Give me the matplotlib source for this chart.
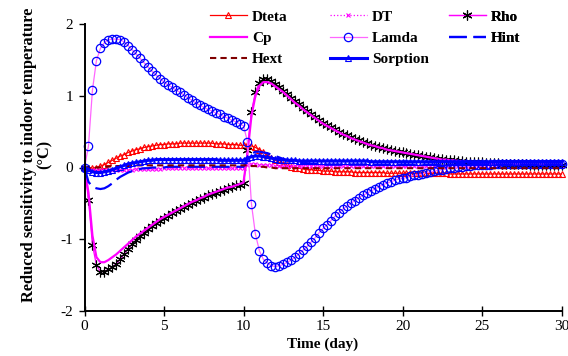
import numpy as np
import matplotlib
matplotlib.use("Agg")
import matplotlib.pyplot as plt

plt.rcParams['font.family'] = ['Liberation Serif', 'DejaVu Serif']

# time axis, one value every 6 hours over 30 days
time_days = np.arange(0, 30.25, 0.25)

dteta = [
    0.00, 0.00, -0.01, 0.00, 0.02, 0.04, 0.07, 0.10,
    0.13, 0.16, 0.18, 0.21, 0.23, 0.25, 0.26, 0.28,
    0.29, 0.30, 0.31, 0.32, 0.32, 0.33, 0.33, 0.33,
    0.34, 0.34, 0.34, 0.34, 0.34, 0.34, 0.34, 0.34,
    0.34, 0.33, 0.33, 0.33, 0.32, 0.32, 0.32, 0.31,
    0.31, 0.31, 0.30, 0.28, 0.25, 0.21, 0.17, 0.13,
    0.10, 0.07, 0.05, 0.03, 0.01, 0.00, -0.01, -0.02,
    -0.03, -0.03, -0.04, -0.04, -0.05, -0.05, -0.05, -0.06,
    -0.06, -0.06, -0.06, -0.06, -0.07, -0.07, -0.07, -0.07,
    -0.07, -0.07, -0.07, -0.07, -0.08, -0.08, -0.08, -0.08,
    -0.08, -0.08, -0.08, -0.08, -0.08, -0.08, -0.08, -0.08,
    -0.08, -0.08, -0.08, -0.08, -0.09, -0.09, -0.09, -0.09,
    -0.09, -0.09, -0.09, -0.09, -0.09, -0.09, -0.09, -0.09,
    -0.09, -0.09, -0.09, -0.09, -0.09, -0.09, -0.09, -0.09,
    -0.09, -0.09, -0.09, -0.09, -0.09, -0.09, -0.09, -0.09,
    -0.09,
]

dt = [
    0.00, -0.02, -0.03, -0.04, -0.04, -0.04, -0.04, -0.04,
    -0.03, -0.03, -0.03, -0.03, -0.03, -0.02, -0.02, -0.02,
    -0.02, -0.02, -0.02, -0.02, -0.01, -0.01, -0.01, -0.01,
    -0.01, -0.01, -0.01, -0.01, -0.01, -0.01, -0.01, -0.01,
    -0.01, -0.01, -0.01, -0.01, -0.01, -0.01, -0.01, -0.01,
    -0.01, 0.04, 0.05, 0.05, 0.04, 0.04, 0.03, 0.03,
    0.02, 0.02, 0.02, 0.02, 0.02, 0.02, 0.02, 0.02,
    0.02, 0.02, 0.02, 0.02, 0.02, 0.02, 0.02, 0.02,
    0.02, 0.02, 0.02, 0.02, 0.02, 0.02, 0.02, 0.02,
    0.02, 0.02, 0.02, 0.02, 0.02, 0.02, 0.02, 0.02,
    0.02, 0.02, 0.02, 0.02, 0.02, 0.02, 0.02, 0.02,
    0.02, 0.02, 0.02, 0.02, 0.02, 0.02, 0.02, 0.02,
    0.02, 0.02, 0.02, 0.02, 0.02, 0.02, 0.02, 0.02,
    0.02, 0.02, 0.02, 0.02, 0.02, 0.02, 0.02, 0.02,
    0.02, 0.02, 0.02, 0.02, 0.02, 0.02, 0.02, 0.02,
    0.02,
]

rho = [
    0.00, -0.45, -1.08, -1.36, -1.45, -1.45, -1.42, -1.39,
    -1.34, -1.28, -1.20, -1.13, -1.07, -1.01, -0.96, -0.91,
    -0.86, -0.82, -0.78, -0.74, -0.70, -0.67, -0.64, -0.61,
    -0.58, -0.55, -0.52, -0.49, -0.47, -0.44, -0.42, -0.39,
    -0.37, -0.35, -0.33, -0.31, -0.29, -0.27, -0.25, -0.24,
    -0.22, 0.25, 0.78, 1.05, 1.18, 1.23, 1.23, 1.20,
    1.16, 1.12, 1.07, 1.02, 0.97, 0.92, 0.88, 0.83,
    0.79, 0.74, 0.70, 0.66, 0.62, 0.59, 0.56, 0.53,
    0.50, 0.47, 0.45, 0.42, 0.40, 0.38, 0.36, 0.34,
    0.32, 0.30, 0.29, 0.27, 0.26, 0.24, 0.23, 0.22,
    0.21, 0.20, 0.19, 0.18, 0.17, 0.16, 0.15, 0.14,
    0.13, 0.12, 0.12, 0.11, 0.10, 0.10, 0.09, 0.09,
    0.08, 0.08, 0.07, 0.07, 0.07, 0.06, 0.06, 0.06,
    0.06, 0.05, 0.05, 0.05, 0.05, 0.05, 0.05, 0.05,
    0.04, 0.04, 0.04, 0.04, 0.04, 0.04, 0.04, 0.04,
    0.04,
]

cp = [
    0.00, -0.35, -0.95, -1.25, -1.32, -1.32, -1.29, -1.25,
    -1.21, -1.16, -1.11, -1.06, -1.01, -0.96, -0.92, -0.88,
    -0.84, -0.80, -0.76, -0.72, -0.69, -0.66, -0.63, -0.60,
    -0.57, -0.54, -0.51, -0.48, -0.46, -0.43, -0.41, -0.38,
    -0.36, -0.34, -0.32, -0.30, -0.28, -0.27, -0.25, -0.23,
    -0.21, 0.20, 0.72, 1.00, 1.14, 1.19, 1.19, 1.17,
    1.13, 1.09, 1.05, 1.00, 0.95, 0.90, 0.86, 0.81,
    0.77, 0.73, 0.69, 0.65, 0.61, 0.58, 0.55, 0.52,
    0.49, 0.46, 0.44, 0.41, 0.39, 0.37, 0.35, 0.33,
    0.31, 0.30, 0.28, 0.27, 0.25, 0.24, 0.23, 0.22,
    0.21, 0.20, 0.19, 0.18, 0.17, 0.16, 0.15, 0.14,
    0.13, 0.12, 0.11, 0.11, 0.10, 0.10, 0.09, 0.09,
    0.08, 0.08, 0.07, 0.07, 0.06, 0.06, 0.06, 0.06,
    0.05, 0.05, 0.05, 0.05, 0.05, 0.05, 0.05, 0.05,
    0.04, 0.04, 0.04, 0.04, 0.04, 0.04, 0.04, 0.04,
    0.04,
]

lamda = [
    0.00, 0.30, 1.08, 1.49, 1.66, 1.74, 1.78, 1.79,
    1.79, 1.78, 1.75, 1.70, 1.64, 1.58, 1.52, 1.46,
    1.40, 1.34, 1.29, 1.24, 1.19, 1.15, 1.12, 1.08,
    1.05, 1.01, 0.97, 0.94, 0.90, 0.87, 0.84, 0.81,
    0.79, 0.76, 0.74, 0.71, 0.69, 0.66, 0.64, 0.61,
    0.58, 0.36, -0.51, -0.93, -1.16, -1.28, -1.33, -1.37,
    -1.38, -1.37, -1.35, -1.32, -1.29, -1.25, -1.20, -1.15,
    -1.10, -1.04, -0.98, -0.91, -0.85, -0.80, -0.74, -0.68,
    -0.63, -0.58, -0.54, -0.50, -0.46, -0.42, -0.39, -0.36,
    -0.33, -0.30, -0.27, -0.24, -0.22, -0.20, -0.18, -0.16,
    -0.15, -0.14, -0.12, -0.11, -0.10, -0.09, -0.07, -0.06,
    -0.05, -0.04, -0.03, -0.02, -0.01, 0.00, 0.01, 0.01,
    0.02, 0.02, 0.03, 0.03, 0.04, 0.04, 0.04, 0.05,
    0.05, 0.05, 0.05, 0.05, 0.05, 0.05, 0.05, 0.05,
    0.05, 0.05, 0.05, 0.05, 0.05, 0.05, 0.05, 0.05,
    0.05,
]

hint = [
    0.00, -0.20, -0.27, -0.29, -0.30, -0.29, -0.26, -0.22,
    -0.17, -0.13, -0.10, -0.07, -0.05, -0.04, -0.02, -0.01,
    -0.01, 0.00, 0.00, 0.00, 0.00, 0.01, 0.01, 0.01,
    0.01, 0.01, 0.01, 0.01, 0.01, 0.01, 0.01, 0.01,
    0.01, 0.01, 0.01, 0.01, 0.01, 0.01, 0.01, 0.01,
    0.01, 0.12, 0.19, 0.22, 0.22, 0.21, 0.20, 0.18,
    0.16, 0.14, 0.12, 0.10, 0.09, 0.08, 0.07, 0.06,
    0.06, 0.05, 0.05, 0.05, 0.04, 0.04, 0.04, 0.04,
    0.04, 0.04, 0.04, 0.04, 0.04, 0.04, 0.04, 0.04,
    0.04, 0.04, 0.04, 0.04, 0.04, 0.04, 0.04, 0.04,
    0.04, 0.04, 0.04, 0.04, 0.04, 0.04, 0.04, 0.04,
    0.04, 0.04, 0.04, 0.04, 0.04, 0.04, 0.04, 0.04,
    0.04, 0.04, 0.04, 0.04, 0.04, 0.04, 0.04, 0.04,
    0.04, 0.04, 0.04, 0.04, 0.04, 0.04, 0.04, 0.04,
    0.04, 0.04, 0.04, 0.04, 0.04, 0.04, 0.04, 0.04,
    0.04,
]

hext = [
    0.00, -0.01, -0.01, 0.00, 0.00, 0.01, 0.01, 0.02,
    0.02, 0.02, 0.02, 0.02, 0.03, 0.03, 0.03, 0.03,
    0.03, 0.03, 0.03, 0.03, 0.03, 0.03, 0.03, 0.03,
    0.03, 0.03, 0.03, 0.03, 0.03, 0.03, 0.03, 0.03,
    0.03, 0.03, 0.03, 0.03, 0.03, 0.03, 0.03, 0.03,
    0.03, 0.03, 0.02, 0.02, 0.01, 0.01, 0.00, 0.00,
    -0.01, -0.01, -0.01, -0.01, -0.01, -0.01, -0.01, -0.01,
    -0.01, -0.01, -0.01, -0.01, -0.01, -0.01, -0.01, -0.01,
    -0.01, -0.01, -0.01, -0.01, -0.01, -0.01, -0.01, -0.01,
    -0.01, -0.01, -0.01, -0.01, -0.01, -0.01, -0.01, -0.01,
    -0.01, -0.01, -0.01, -0.01, -0.01, -0.01, -0.01, -0.01,
    -0.01, -0.01, -0.01, -0.01, -0.01, -0.01, -0.01, -0.01,
    -0.01, -0.01, -0.01, -0.01, -0.01, -0.01, -0.01, -0.01,
    -0.01, -0.01, -0.01, -0.01, -0.01, -0.01, -0.01, -0.01,
    -0.01, -0.01, -0.01, -0.01, -0.01, -0.01, -0.01, -0.01,
    -0.01,
]

sorption = [
    0.00, -0.03, -0.06, -0.07, -0.07, -0.06, -0.05, -0.03,
    -0.01, 0.01, 0.03, 0.05, 0.06, 0.07, 0.08, 0.09,
    0.10, 0.10, 0.11, 0.11, 0.11, 0.11, 0.11, 0.11,
    0.11, 0.11, 0.11, 0.11, 0.11, 0.11, 0.11, 0.11,
    0.11, 0.11, 0.10, 0.10, 0.10, 0.10, 0.10, 0.10,
    0.10, 0.13, 0.15, 0.16, 0.16, 0.15, 0.14, 0.13,
    0.12, 0.11, 0.11, 0.10, 0.10, 0.10, 0.09, 0.09,
    0.09, 0.09, 0.09, 0.09, 0.09, 0.09, 0.09, 0.09,
    0.09, 0.09, 0.09, 0.09, 0.09, 0.09, 0.09, 0.09,
    0.08, 0.08, 0.08, 0.08, 0.08, 0.08, 0.08, 0.08,
    0.08, 0.08, 0.08, 0.08, 0.08, 0.08, 0.08, 0.08,
    0.08, 0.08, 0.08, 0.08, 0.08, 0.08, 0.08, 0.08,
    0.08, 0.08, 0.08, 0.08, 0.08, 0.08, 0.08, 0.08,
    0.08, 0.08, 0.08, 0.08, 0.08, 0.08, 0.08, 0.08,
    0.08, 0.08, 0.08, 0.08, 0.08, 0.08, 0.08, 0.08,
    0.08,
]

W, H = 568, 356
fig = plt.figure(figsize=(W / 100, H / 100), dpi=100)
ax = fig.add_axes([84.5 / W, 1 - 311 / H, 477 / W, 287 / H])

asterisk = (6, 2, 0)
series = [
    ("Dteta", dteta, dict(color="#FF0000", lw=0.9, marker="^", ms=5, mfc="none", mec="#FF0000", mew=0.8)),
    ("DT", dt, dict(color="#FF00FF", lw=0.9, ls=":", marker="x", ms=3.5, mec="#FF00FF", mew=0.8)),
    ("Rho", rho, dict(color="#FF00FF", lw=0.9, marker=asterisk, ms=7, mec="black", mew=0.8)),
    ("Cp", cp, dict(color="#FF00FF", lw=1.6)),
    ("Lamda", lamda, dict(color="#FF66FF", lw=0.9, marker="o", ms=6, mfc="none", mec="#0000FF", mew=0.9)),
    ("Hint", hint, dict(color="#0000FF", lw=1.6, dashes=(8, 3))),
    ("Hext", hext, dict(color="#800000", lw=1.5, dashes=(3, 2))),
    ("Sorption", sorption, dict(color="#0000FF", lw=2.2, marker="^", ms=5, mfc="none", mec="#0000FF", mew=0.8)),
]

handles = {}
for name, vals, style in series:
    line, = ax.plot(time_days, vals, label=name, clip_on=False, **style)
    handles[name] = line

ax.set_xlim(0, 30)
ax.set_ylim(-2, 2)
ax.set_xticks([0, 5, 10, 15, 20, 25, 30])
ax.set_yticks([-2, -1, 0, 1, 2])
ax.set_yticklabels(["-2", "-1", "0", "1", "2"])
for side in ["top", "right"]:
    ax.spines[side].set_visible(False)
for side in ["left", "bottom"]:
    ax.spines[side].set_linewidth(1.4)
ax.tick_params(axis="x", direction="inout", length=7, width=1, labelsize=11, pad=3)
ax.tick_params(axis="y", direction="out", length=4, width=1, labelsize=11, pad=4)

ax.set_xlabel("Time (day)", fontsize=11, fontweight="bold", labelpad=3)
ax.set_ylabel("Reduced sensitivity to indoor temperature\n(°C)", fontsize=11.8,
              fontweight="bold", linespacing=1.0)
ax.yaxis.set_label_coords(-0.066, 0.544)

# three legend columns, placed like the spreadsheet legend
columns = [["Dteta", "Cp", "Hext"], ["DT", "Lamda", "Sorption"], ["Rho", "Hint"]]
col_x = [210, 330, 449]
for names, x in zip(columns, col_x):
    leg = ax.legend([handles[n] for n in names], names, loc="upper left",
                    bbox_to_anchor=(x / W, 1 - 10 / H), bbox_transform=fig.transFigure,
                    frameon=False, borderpad=0, borderaxespad=0, handlelength=2.4,
                    handletextpad=0.35, labelspacing=0.5,
                    prop={"weight": "bold", "size": 11})
    ax.add_artist(leg)

fig.savefig("out.png", dpi=100)
